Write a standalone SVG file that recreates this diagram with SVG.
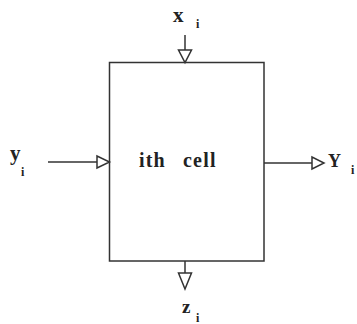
<svg xmlns="http://www.w3.org/2000/svg" width="357" height="324" viewBox="0 0 357 324">
<style>
.ln{stroke:#333;stroke-width:1.5;fill:none}
.ar{stroke:#333;stroke-width:1.5;fill:#fff;stroke-linejoin:miter}
.lb{font-family:"Liberation Serif",serif;font-weight:bold;fill:#222}
</style>
<rect width="357" height="324" fill="#fff"/>
<g id="connectors">
<line class="ln" x1="185" y1="35" x2="185" y2="50"/>
<polygon class="ar" points="178.5,50 191.5,50 185,62.5"/>
<line class="ln" x1="48" y1="162" x2="97" y2="162"/>
<polygon class="ar" points="97,156 97,168 109.5,162"/>
<line class="ln" x1="264" y1="163" x2="312" y2="163"/>
<polygon class="ar" points="312,157 312,169 324,163"/>
<line class="ln" x1="185" y1="261" x2="185" y2="273"/>
<polygon class="ar" points="178.5,273 191.5,273 185,289"/>
</g>
<g id="cell">
<rect class="ln" x="109.5" y="62.5" width="154.5" height="198.5"/>
<text class="lb" font-size="20" y="167" letter-spacing="1.2"><tspan x="139">ith</tspan><tspan x="183">cell</tspan></text>
</g>
<g id="x_i">
<text class="lb" x="173" y="22" font-size="21">x</text>
<text class="lb" x="196" y="28" font-size="12">i</text>
</g>
<g id="y_i">
<text class="lb" x="10" y="160" font-size="21">y</text>
<text class="lb" x="21" y="176" font-size="12">i</text>
</g>
<g id="Y_i">
<text class="lb" x="328" y="167" font-size="18">Y</text>
<text class="lb" x="351" y="174" font-size="12">i</text>
</g>
<g id="z_i">
<text class="lb" x="182" y="313" font-size="19">z</text>
<text class="lb" x="196" y="321.5" font-size="12">i</text>
</g>
</svg>
